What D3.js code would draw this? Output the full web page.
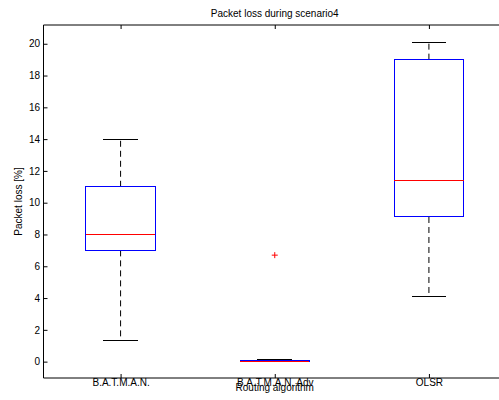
<!DOCTYPE html>
<html>
<head>
<meta charset="utf-8">
<script src="https://cdn.jsdelivr.net/npm/d3@7"></script>
<style>
  html, body { margin: 0; padding: 0; background: #fff; overflow: hidden; }
  svg { display: block; overflow: hidden; }
  text { font-family: "Liberation Sans", Arial, Helvetica, sans-serif; font-size: 10px; fill: #000; }
</style>
</head>
<body>
<svg id="chart" width="499" height="400"></svg>
<script>
// Box-plot summaries per routing algorithm (packet loss, %)
const categories   = ["B.A.T.M.A.N.", "B.A.T.M.A.N. Adv", "OLSR"];
const whiskerLow   = [1.3, 0.0, 4.1];
const quartile1    = [7.0, 0.0, 9.1];
const medians      = [8.0, 0.02, 11.4];
const quartile3    = [11.0, 0.09, 19.0];
const whiskerHigh  = [14.0, 0.15, 20.1];
const outliers     = [[], [6.7], []];
const yTicks       = [0, 2, 4, 6, 8, 10, 12, 14, 16, 18, 20];

const titleText  = "Packet loss during scenario4";
const xLabelText = "Routing algorithm";
const yLabelText = "Packet loss [%]";

const svg = d3.select("#chart");

const plotLeft = 43.5, plotRight = 506, plotTop = 25, plotBottom = 378;
const x = d3.scaleLinear().domain([0.5, categories.length + 0.5]).range([plotLeft, plotRight]);
const y = d3.scaleLinear().domain([-1.03, 21.18]).range([plotBottom, plotTop]);

const boxWidth = 0.45;   // in category units
const capWidth = boxWidth / 2;

// Axes frame (the right edge runs past the visible area)
const frame = svg.append("g").attr("stroke", "#000").attr("stroke-width", 1);
frame.append("line").attr("x1", plotLeft).attr("x2", 499).attr("y1", plotTop).attr("y2", plotTop);
frame.append("line").attr("x1", plotLeft).attr("x2", 499).attr("y1", plotBottom).attr("y2", plotBottom);
frame.append("line").attr("x1", plotLeft).attr("x2", plotLeft).attr("y1", plotTop).attr("y2", plotBottom);

const positions = categories.map((_, i) => i + 1);

// Bottom axis with category labels, ticks pointing inward
const xAxis = svg.append("g")
  .attr("transform", `translate(0,${plotBottom})`)
  .call(d3.axisBottom(x).tickValues(positions)
    .tickFormat((d) => categories[d - 1]).tickSize(-4).tickPadding(0.5));
xAxis.select(".domain").remove();

// Top axis ticks (no labels)
const xTop = svg.append("g")
  .attr("transform", `translate(0,${plotTop})`)
  .call(d3.axisTop(x).tickValues(positions).tickFormat("").tickSize(-4));
xTop.select(".domain").remove();

// Left axis
const yAxis = svg.append("g")
  .attr("transform", `translate(${plotLeft},0)`)
  .call(d3.axisLeft(y).tickValues(yTicks).tickFormat(d3.format("d")).tickSize(-4).tickPadding(3.5));
yAxis.select(".domain").remove();

svg.selectAll(".tick line").attr("stroke", "#000");
svg.selectAll(".tick text").style("font-size", "10px").attr("fill", "#000")
  .style("font-family", "'Liberation Sans', Arial, Helvetica, sans-serif");

// Boxes
const plot = svg.append("g");
categories.forEach((c, i) => {
  const cx = x(i + 1);
  const hw = x(i + 1 + boxWidth / 2) - cx;
  const cw = x(i + 1 + capWidth / 2) - cx;

  // dashed whiskers
  plot.append("line")
    .attr("x1", cx).attr("x2", cx)
    .attr("y1", y(quartile3[i])).attr("y2", y(whiskerHigh[i]))
    .attr("stroke", "#000").attr("stroke-width", 1).attr("stroke-dasharray", "6,4");
  plot.append("line")
    .attr("x1", cx).attr("x2", cx)
    .attr("y1", y(quartile1[i])).attr("y2", y(whiskerLow[i]))
    .attr("stroke", "#000").attr("stroke-width", 1).attr("stroke-dasharray", "6,4");

  // whisker caps
  [whiskerHigh[i], whiskerLow[i]].forEach((v) => {
    plot.append("line")
      .attr("x1", cx - cw).attr("x2", cx + cw)
      .attr("y1", y(v)).attr("y2", y(v))
      .attr("stroke", "#000").attr("stroke-width", 1)
      .attr("shape-rendering", "crispEdges");
  });

  // box
  plot.append("rect")
    .attr("x", cx - hw).attr("y", y(quartile3[i]))
    .attr("width", 2 * hw)
    .attr("height", Math.max(0, y(quartile1[i]) - y(quartile3[i])))
    .attr("fill", "none").attr("stroke", "#0000ff").attr("stroke-width", 1)
    .attr("shape-rendering", "crispEdges");

  // median
  plot.append("line")
    .attr("x1", cx - hw).attr("x2", cx + hw)
    .attr("y1", y(medians[i])).attr("y2", y(medians[i]))
    .attr("stroke", "#ff0000").attr("stroke-width", 1)
    .attr("shape-rendering", "crispEdges");

  // outliers as red plus marks
  outliers[i].forEach((v) => {
    const oy = y(v), s = 3;
    plot.append("path")
      .attr("d", `M${cx - s},${oy}H${cx + s}M${cx},${oy - s}V${oy + s}`)
      .attr("stroke", "#ff0000").attr("stroke-width", 1).attr("fill", "none");
  });
});

// Title and axis labels
svg.append("text")
  .attr("x", (plotLeft + plotRight) / 2).attr("y", 17)
  .attr("text-anchor", "middle")
  .text(titleText);

svg.append("text")
  .attr("x", (plotLeft + plotRight) / 2).attr("y", 391)
  .attr("text-anchor", "middle")
  .text(xLabelText);

svg.append("text")
  .attr("transform", `translate(22,${(plotTop + plotBottom) / 2}) rotate(-90)`)
  .attr("text-anchor", "middle")
  .text(yLabelText);
</script>
</body>
</html>
